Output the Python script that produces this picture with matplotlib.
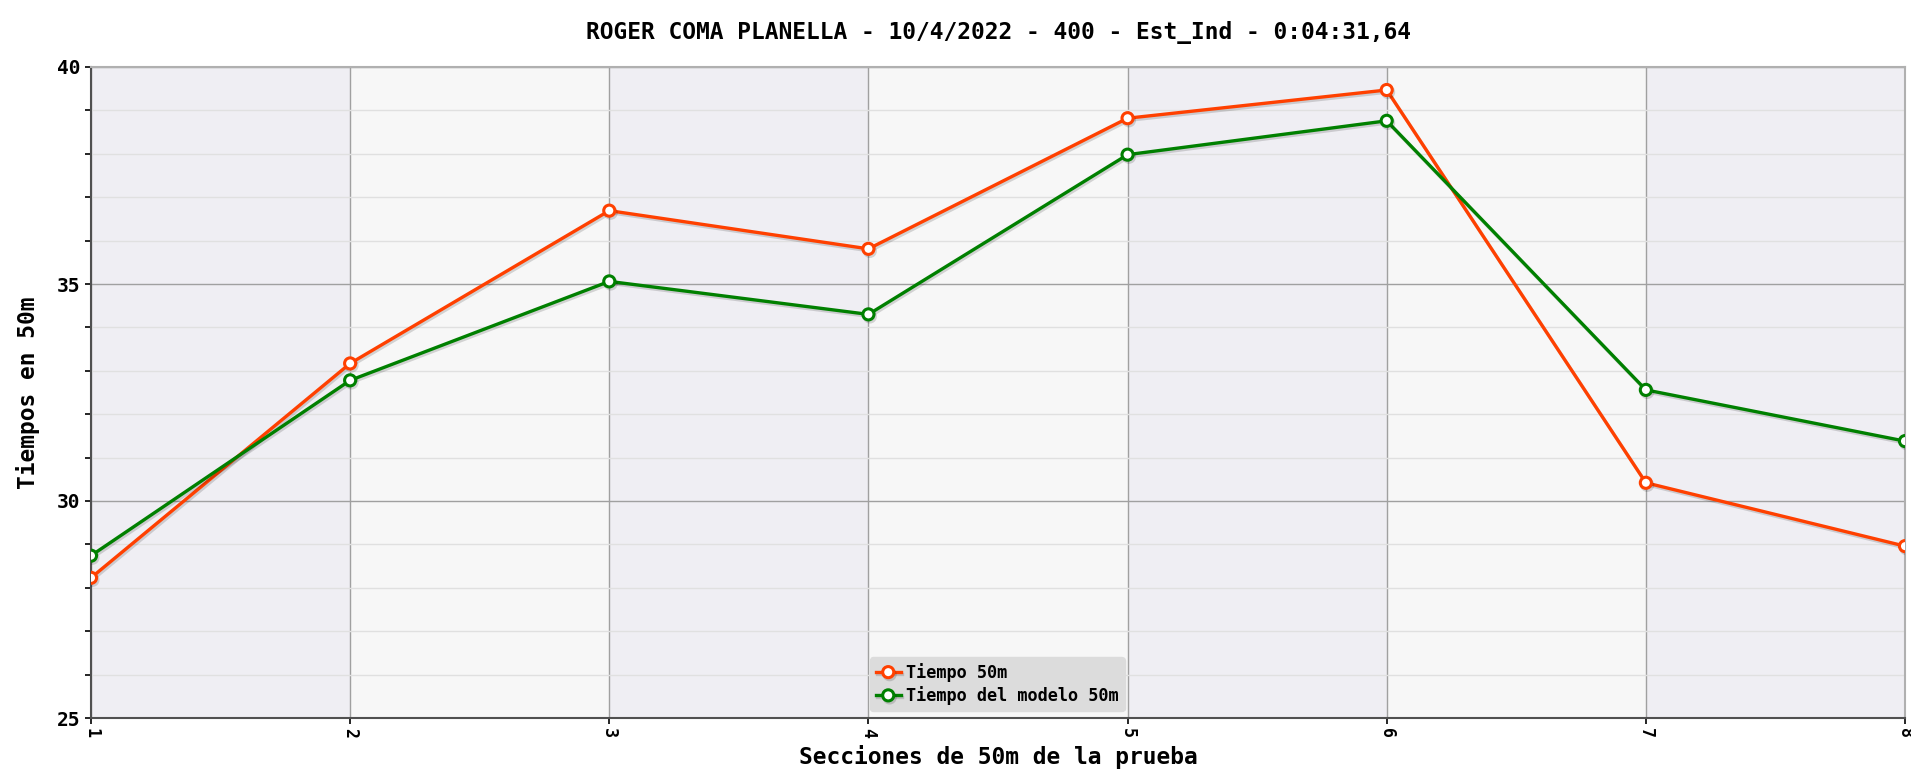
import matplotlib
matplotlib.use("Agg")
import matplotlib.pyplot as plt
import matplotlib.patheffects as pe
from matplotlib.ticker import MultipleLocator

# --- Datos ---
secciones = [1, 2, 3, 4, 5, 6, 7, 8]
tiempo_50m = [28.23, 33.17, 36.69, 35.81, 38.82, 39.47, 30.42, 28.96]
tiempo_modelo_50m = [28.74, 32.78, 35.06, 34.30, 37.98, 38.76, 32.56, 31.38]
titulo = "ROGER COMA PLANELLA - 10/4/2022 - 400 - Est_Ind - 0:04:31,64"

plt.rcParams['font.family'] = ['DejaVu Sans Mono']
plt.rcParams['font.weight'] = 'bold'

fig = plt.figure(figsize=(19.11, 7.71), dpi=100)
ax = fig.add_axes([91 / 1911, 1 - 718 / 771, (1905 - 91) / 1911, (718 - 67) / 771])

# bandas alternas de fondo
for i in range(len(secciones) - 1):
    color = '#efeef3' if i % 2 == 0 else '#f7f7f7'
    ax.axvspan(secciones[i], secciones[i + 1], color=color, zorder=0, lw=0)

sombra = [pe.SimpleLineShadow(offset=(1, -1.5), alpha=0.15), pe.Normal()]
ax.plot(secciones, tiempo_50m, color='#ff4000', lw=2.4, marker='o', ms=8,
        mfc='white', mec='#ff4000', mew=2.2, label='Tiempo 50m', zorder=5,
        path_effects=sombra)
ax.plot(secciones, tiempo_modelo_50m, color='#008000', lw=2.4, marker='o', ms=8,
        mfc='white', mec='#008000', mew=2.2, label='Tiempo del modelo 50m', zorder=5,
        path_effects=sombra)

ax.set_xlim(1, 8)
ax.set_ylim(25, 40)
ax.set_xticks(secciones)
ax.yaxis.set_major_locator(MultipleLocator(5))
ax.yaxis.set_minor_locator(MultipleLocator(1))
ax.grid(which='major', axis='both', color='#a0a0a0', lw=1, zorder=1)
ax.grid(which='minor', axis='y', color='#e0e0e0', lw=1, zorder=1)
ax.set_axisbelow(True)

ax.tick_params(axis='x', labelrotation=-90, labelsize=12, length=4, width=1.2)
ax.tick_params(axis='y', labelsize=14, length=4, width=1.2)
ax.tick_params(axis='y', which='minor', length=4, width=1.2)
for lab in ax.get_xticklabels() + ax.get_yticklabels():
    lab.set_fontweight('bold')

for s in ['top', 'right']:
    ax.spines[s].set_color('#b0b0b0')
    ax.spines[s].set_linewidth(1.5)
for s in ['left', 'bottom']:
    ax.spines[s].set_color('#505050')
    ax.spines[s].set_linewidth(1.5)

ax.set_xlabel('Secciones de 50m de la prueba', fontsize=16.5, fontweight='bold', labelpad=5)
ax.set_ylabel('Tiempos en 50m', fontsize=16.5, fontweight='bold', labelpad=12)
ax.set_title(titulo, fontsize=16.5, fontweight='bold', pad=20)

leg = ax.legend(loc='lower center', bbox_to_anchor=(0.4995, 0.0), fontsize=12.2,
                facecolor='#dcdcdc', edgecolor='#dcdcdc', framealpha=1,
                borderpad=0.35, handlelength=1.5, handletextpad=0.3, labelspacing=0.25,
                borderaxespad=0.4)
for t in leg.get_texts():
    t.set_fontweight('bold')

fig.savefig('out.png', dpi=100)
